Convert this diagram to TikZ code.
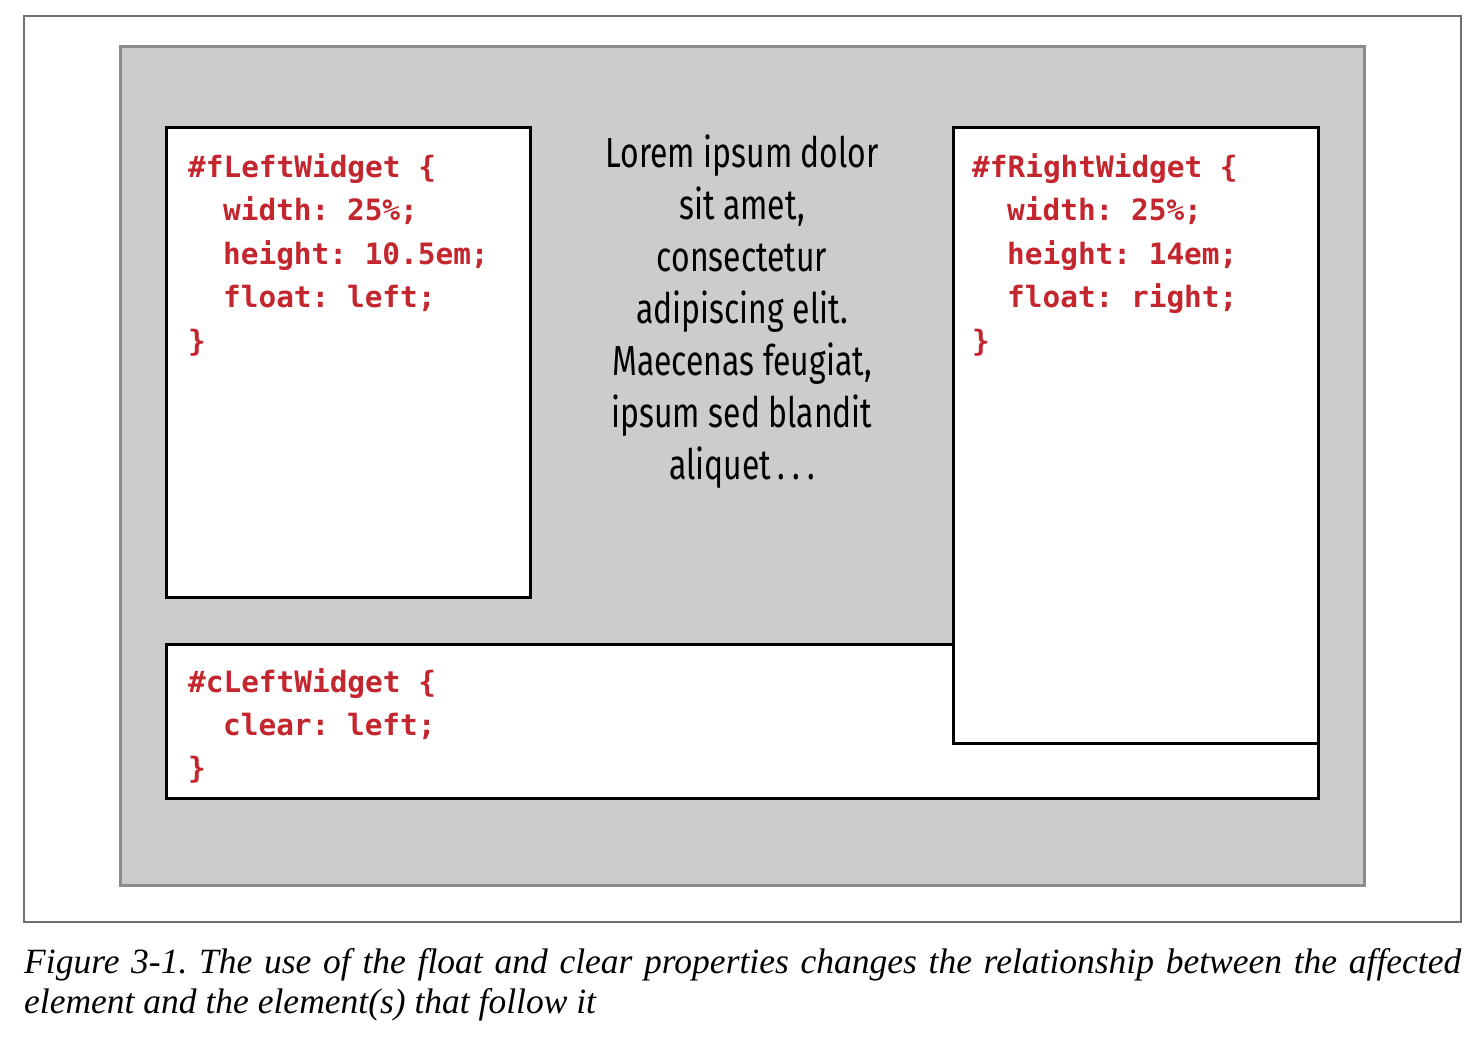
\documentclass[tikz,border=0pt]{standalone}
\usepackage{fontspec}
\setmainfont{Liberation Serif}
\newfontfamily\codefont{DejaVu Sans Mono}[BoldFont={DejaVu Sans Mono Bold}]
\newfontfamily\lorfont{Fira Sans}[FakeStretch=0.76]
\definecolor{codered}{HTML}{C4262E}
\definecolor{panelgray}{HTML}{CCCCCC}
\definecolor{panelborder}{HTML}{8C8C8C}
\definecolor{framegray}{HTML}{707070}
\frenchspacing
\begin{document}
\begin{tikzpicture}[x=1pt,y=-1pt,
  code/.style={anchor=base west,inner sep=0pt,text=codered,font=\codefont\bfseries\fontsize{29.4}{43}\selectfont},
  lorem/.style={anchor=base,inner sep=0pt,font=\lorfont\fontsize{42}{52}\selectfont},
  captext/.style={anchor=base west,inner sep=0pt,font=\itshape\fontsize{35.5}{40}\selectfont},
  widgetbox/.style={draw=black,fill=white,line width=3pt}]
\useasboundingbox (0,0) rectangle (1482,1044);
% outer frame
\draw[framegray,line width=1.5pt] (24,16) rectangle (1461,922);
% gray panel
\draw[panelborder,fill=panelgray,line width=3pt] (120,46) rectangle (1364,885);
% left floated widget
\draw[widgetbox] (166,127) rectangle (530,597);
% cleared widget
\draw[widgetbox] (166,644) rectangle (1318,798);
% right floated widget
\draw[widgetbox] (953,127) rectangle (1318,743);
% left code
\node[code] (l1) at (188,177) {\#fLeftWidget \{};
\node[code] (l2) at (223,220) {width: 25\%;};
\node[code] (l3) at (223,264) {height: 10.5em;};
\node[code] (l4) at (223,307) {float: left;};
\node[code] (l5) at (188,351) {\}};
% right code
\node[code] (r1) at (972,177) {\#fRightWidget \{};
\node[code] (r2) at (1007,220) {width: 25\%;};
\node[code] (r3) at (1007,264) {height: 14em;};
\node[code] (r4) at (1007,307) {float: right;};
\node[code] (r5) at (972,351) {\}};
% bottom code
\node[code] (c1) at (188,692) {\#cLeftWidget \{};
\node[code] (c2) at (223,735) {clear: left;};
\node[code] (c3) at (188,778) {\}};
% lorem text
\node[lorem] (t1) at (742,167) {Lorem ipsum dolor};
\node[lorem] (t2) at (742,219) {sit amet,};
\node[lorem] (t3) at (742,271) {consectetur};
\node[lorem] (t4) at (742,323) {adipiscing elit.};
\node[lorem] (t5) at (742,375) {Maecenas feugiat,};
\node[lorem] (t6) at (742,427) {ipsum sed blandit};
\node[lorem] (t7) at (742,479) {aliquet\,.\,.\,.};
% caption
\node[captext] (cap1) at (24,973) {\makebox[1437pt][s]{Figure 3-1. The use of the float and clear properties changes the relationship between the affected}};
\node[captext] (cap2) at (24,1013) {element and the element(s) that follow it};
\end{tikzpicture}
\end{document}
